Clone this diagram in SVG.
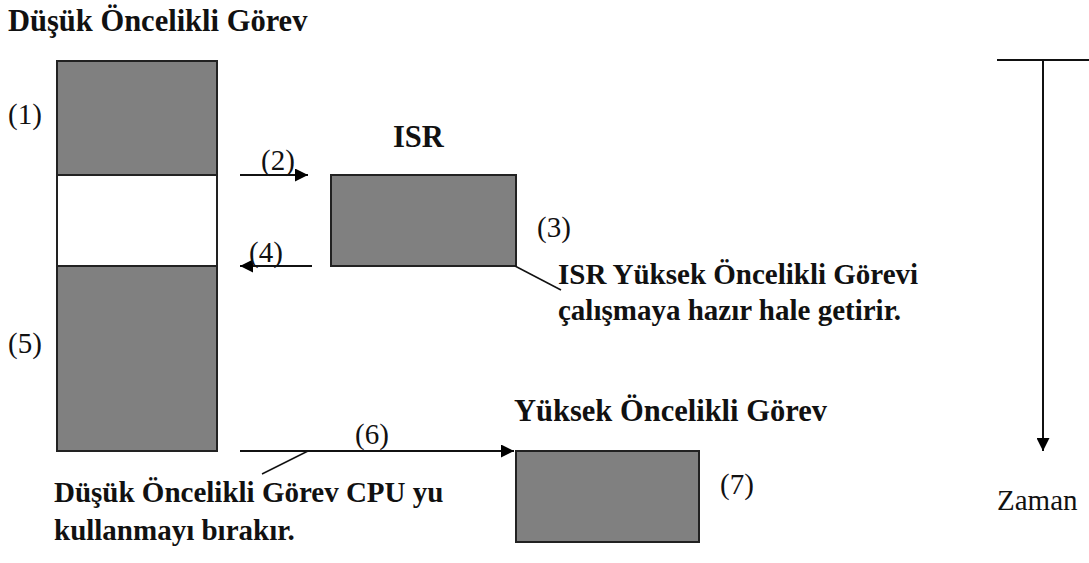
<svg xmlns="http://www.w3.org/2000/svg" width="1089" height="563" viewBox="0 0 1089 563">
  <defs>
    <marker id="arrow" viewBox="0 0 10 10" refX="10" refY="5" markerWidth="16" markerHeight="13" markerUnits="userSpaceOnUse" orient="auto">
      <path d="M0,0 L10,5 L0,10 Z" fill="#000"/>
    </marker>
    <style>
      .box { fill: #808080; stroke: #222; stroke-width: 2; }
      .gap { fill: #fff; stroke: #222; stroke-width: 2; }
      .line { stroke: #111; stroke-width: 2; fill: none; }
      .thin { stroke: #111; stroke-width: 1.5; fill: none; }
      .head { font-family: "Liberation Serif", "Times New Roman", serif; font-weight: bold; font-size: 29px; fill: #111; }
      .big { font-size: 30.5px; }
      .num { font-family: "Liberation Serif", "Times New Roman", serif; font-size: 29px; fill: #111; }
    </style>
  </defs>
  <rect width="1089" height="563" fill="#fff"/>

  <!-- low priority task -->
  <g id="low-task">
    <text class="head big" x="8" y="31">Düşük Öncelikli Görev</text>
    <rect class="box" x="57" y="61" width="160" height="114"/>
    <rect class="gap" x="57" y="175" width="160" height="91"/>
    <rect class="box" x="57" y="266" width="160" height="185"/>
    <text class="num" x="8" y="124">(1)</text>
    <text class="num" x="8" y="353">(5)</text>
  </g>

  <!-- interrupt service routine -->
  <g id="isr">
    <text class="head big" x="393" y="147">ISR</text>
    <rect class="box" x="331" y="175" width="185" height="91"/>
    <text class="num" x="537" y="237">(3)</text>
    <text class="head" x="558" y="284">ISR Yüksek Öncelikli Görevi</text>
    <text class="head" x="558" y="320">çalışmaya hazır hale getirir.</text>
  </g>

  <!-- high priority task -->
  <g id="high-task">
    <text class="head big" x="514" y="421">Yüksek Öncelikli Görev</text>
    <rect class="box" x="516" y="451" width="183" height="91"/>
    <text class="num" x="720" y="494">(7)</text>
  </g>

  <!-- release note -->
  <g id="release-note">
    <text class="head" x="54" y="502">Düşük Öncelikli Görev CPU yu</text>
    <text class="head" x="54" y="540">kullanmayı bırakır.</text>
  </g>

  <!-- time axis -->
  <g id="time-axis">
    <line class="line" x1="997" y1="60" x2="1089" y2="60"/>
    <line class="line" x1="1043" y1="60" x2="1043" y2="451" marker-end="url(#arrow)"/>
    <text class="num" x="997" y="510">Zaman</text>
  </g>

  <!-- connectors -->
  <g id="connectors">
    <line class="line" x1="240" y1="175" x2="308" y2="175" marker-end="url(#arrow)"/>
    <text class="num" x="261" y="170">(2)</text>
    <line class="line" x1="312" y1="266" x2="240" y2="266" marker-end="url(#arrow)"/>
    <text class="num" x="249" y="262">(4)</text>
    <line class="line" x1="240" y1="451" x2="514" y2="451" marker-end="url(#arrow)"/>
    <text class="num" x="355" y="444">(6)</text>
    <line class="thin" x1="515" y1="266" x2="561" y2="290"/>
    <line class="thin" x1="308" y1="451" x2="262" y2="474"/>
  </g>
</svg>
